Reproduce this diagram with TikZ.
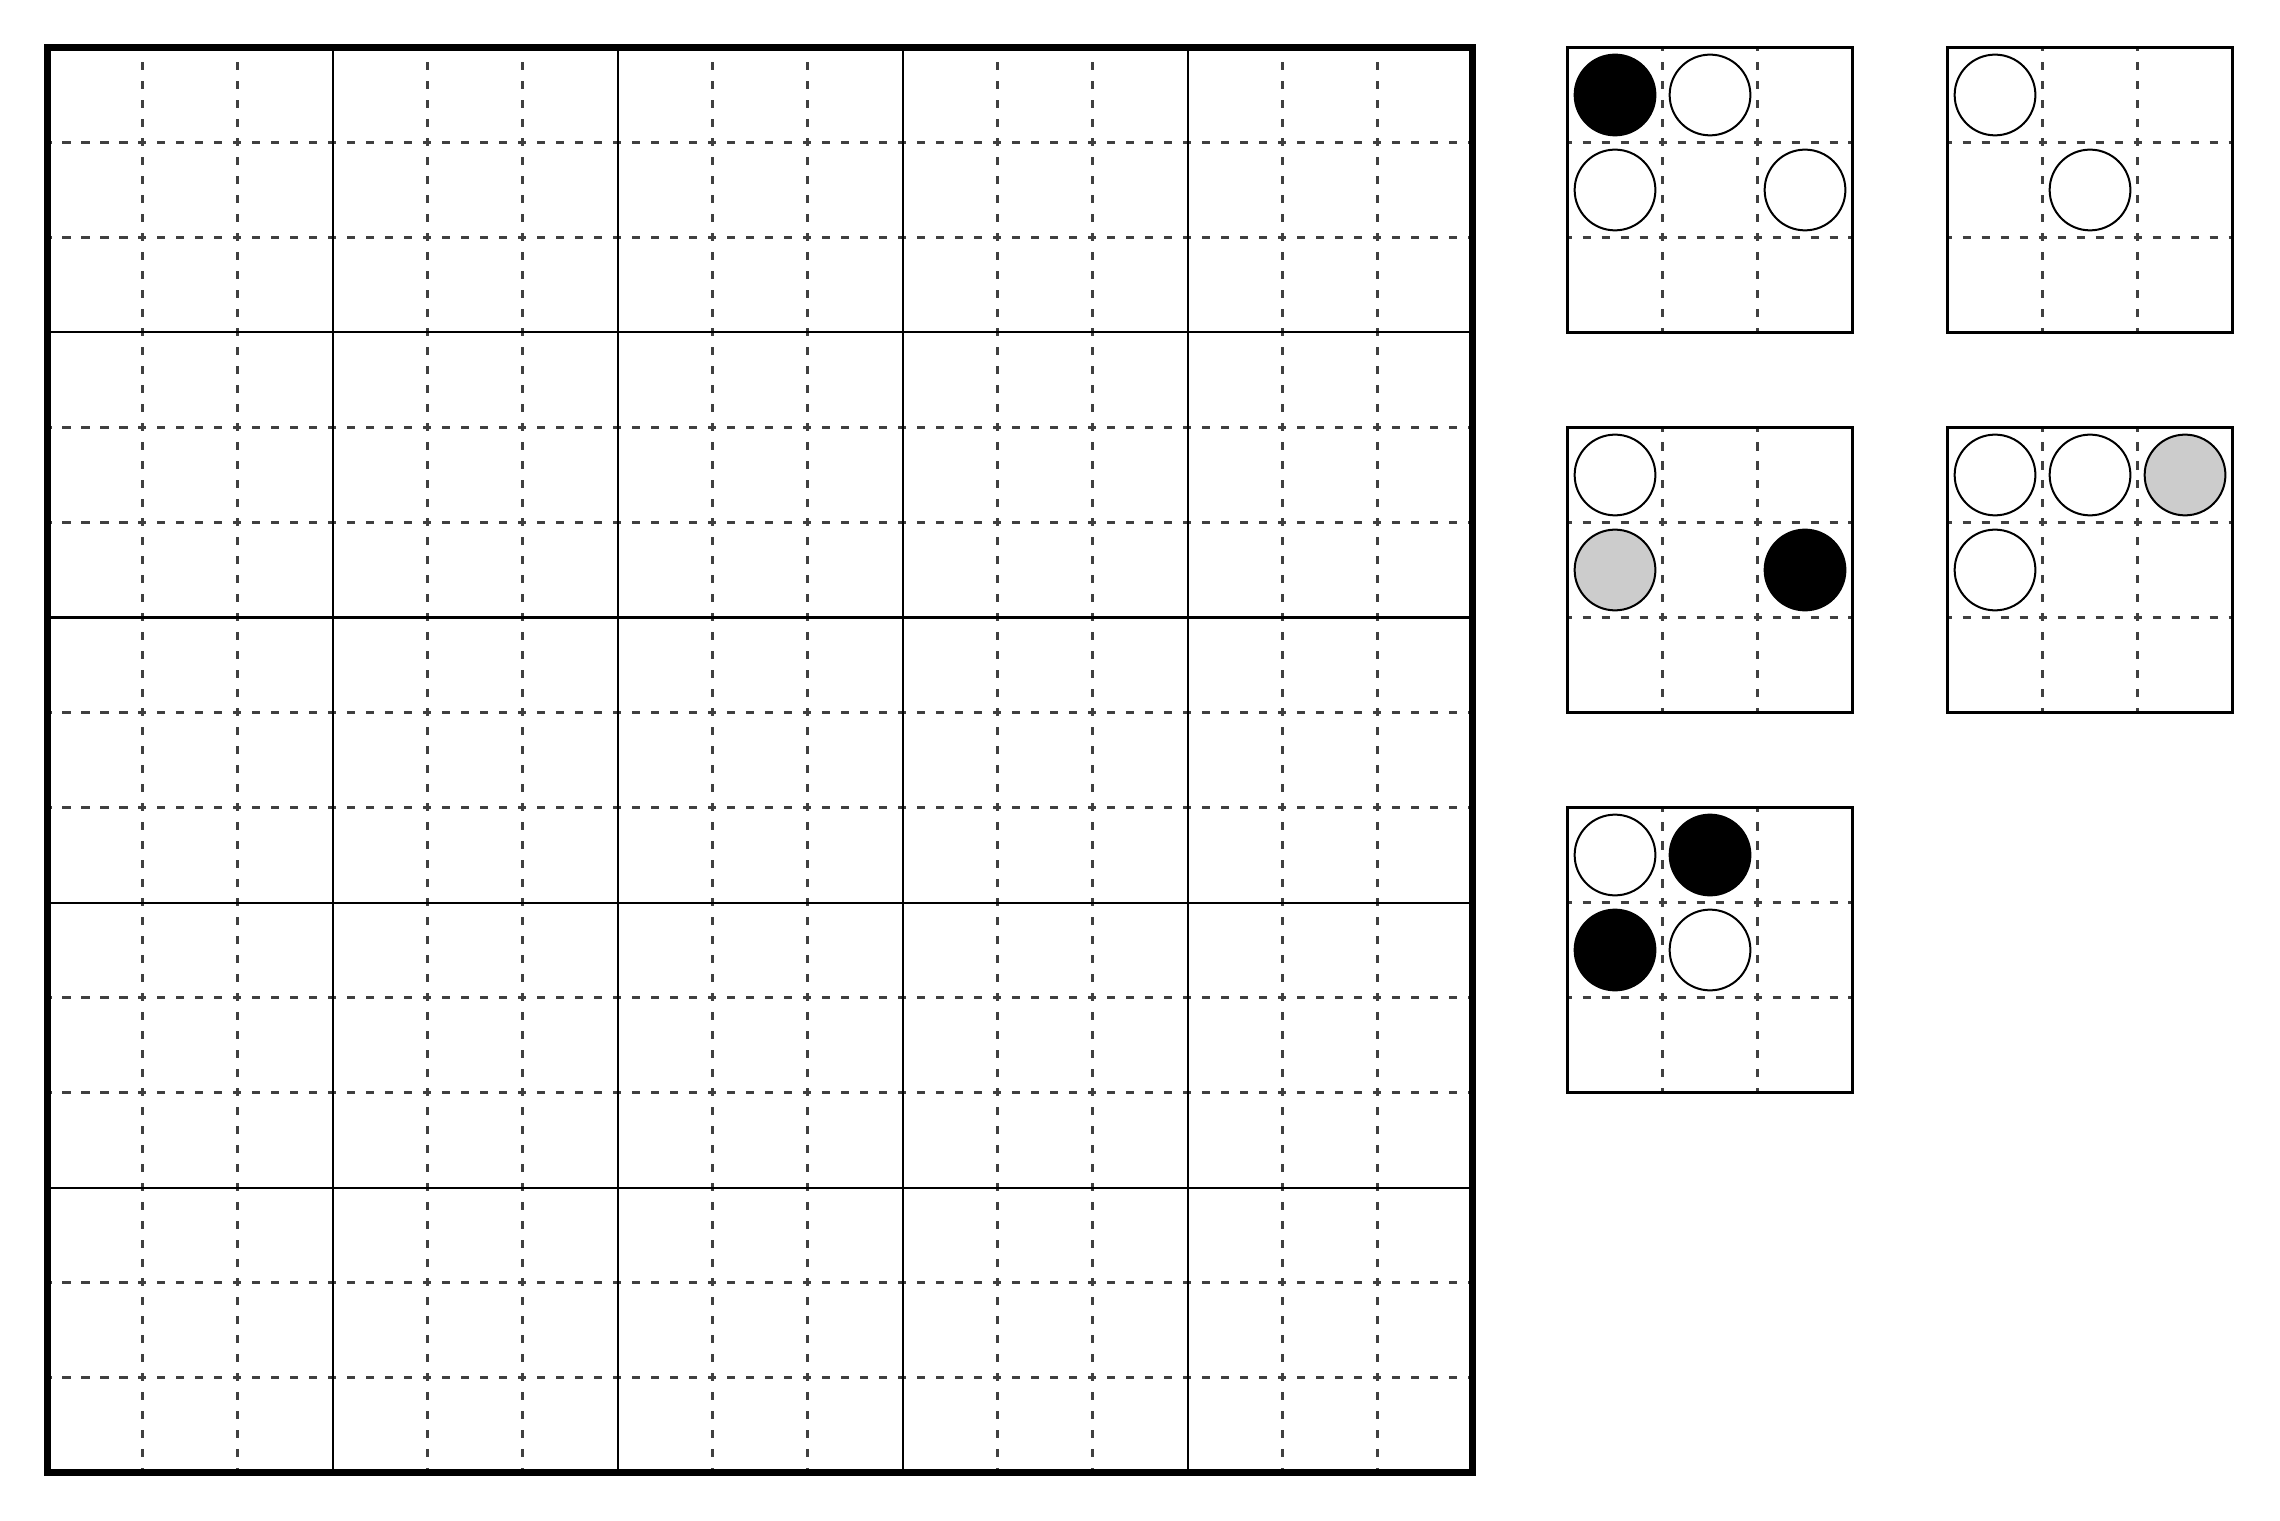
\documentclass[tikz,border=0pt]{standalone}
\usepackage{tikz}

\tikzset{
  gridfine/.style={draw=black!75,line width=0.65pt,dash pattern=on 2.4pt off 3.29pt,dash phase=1.2pt},
  gridbold/.style={draw=black,line width=0.6pt},
  boardedge/.style={draw=black,line width=2pt},
  boxedge/.style={draw=black,line width=0.7pt},
  stonew/.style={circle,draw=black,line width=0.6pt,fill=white,minimum size=0.85cm,inner sep=0pt},
  stoneb/.style={stonew,fill=black},
  stoneg/.style={stonew,fill=black!20}
}

\begin{document}
\begin{tikzpicture}[x=1cm,y=1cm,yscale=-1,xscale=1]
\useasboundingbox (-0.5,-0.5) rectangle (23.5,15.5);

%Board: fine lines
\foreach \i in {1,2,4,5,7,8,10,11,13,14} {
  \draw[gridfine] (\i,0) -- (\i,15) ;
  \draw[gridfine] (0,\i) -- (15,\i) ;
}
%Board: block lines
\foreach \i in {3,6,9,12} {
  \draw[gridbold] (\i,0) -- (\i,15) ;
  \draw[gridbold] (0,\i) -- (15,\i) ;
}
%Board: outer edge
\draw[boardedge] (0,0) -- (15,0) -- (15,15) -- (0,15) -- cycle ;

%Small boxes
\foreach \bx/\by in {16/0,20/0,16/4,20/4,16/8} {
  \draw[gridfine] (\bx+1,\by) -- (\bx+1,\by+3) ;
  \draw[gridfine] (\bx+2,\by) -- (\bx+2,\by+3) ;
  \draw[gridfine] (\bx,\by+1) -- (\bx+3,\by+1) ;
  \draw[gridfine] (\bx,\by+2) -- (\bx+3,\by+2) ;
  \draw[boxedge] (\bx,\by) rectangle (\bx+3,\by+3) ;
}

%Box one
\node[stoneb] (oneaa) at (16.5,0.5) {};
\node[stonew] (oneba) at (17.5,0.5) {};
\node[stonew] (oneab) at (16.5,1.5) {};
\node[stonew] (onecb) at (18.5,1.5) {};
%Box two
\node[stonew] (twoaa) at (20.5,0.5) {};
\node[stonew] (twobb) at (21.5,1.5) {};
%Box three
\node[stonew] (threeaa) at (16.5,4.5) {};
\node[stoneg] (threeab) at (16.5,5.5) {};
\node[stoneb] (threecb) at (18.5,5.5) {};
%Box four
\node[stonew] (fouraa) at (20.5,4.5) {};
\node[stonew] (fourba) at (21.5,4.5) {};
\node[stoneg] (fourca) at (22.5,4.5) {};
\node[stonew] (fourab) at (20.5,5.5) {};
%Box five
\node[stonew] (fiveaa) at (16.5,8.5) {};
\node[stoneb] (fiveba) at (17.5,8.5) {};
\node[stoneb] (fiveab) at (16.5,9.5) {};
\node[stonew] (fivebb) at (17.5,9.5) {};

\end{tikzpicture}
\end{document}
